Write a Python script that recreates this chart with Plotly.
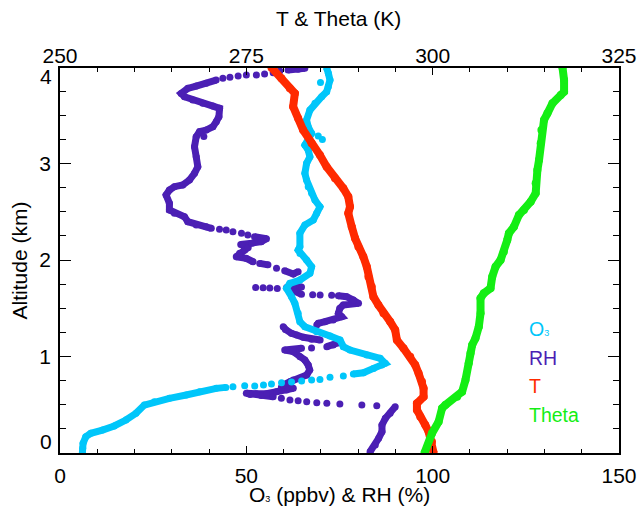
import plotly.graph_objects as go

# ---- data (None = break between separated dots) ----
o3_val = [6.0, 6.1, 6.19, 6.92, 8.27, 11.39, 14.54, 17.69, 20.38, 22.62, 25.32, 29.36, 33.85, 37.44, 41.93, 44.5, None,
          46.41, None, 49.56, None, 52.25, None, 54.6, None, 56.74, None, 59.44, None, 62.13, None, 64.83, None,
          67.52, None, 69.75, None, 72.45, None, 76.03, None,
          78.72, 81.42, 84.11, 86.37, 87.26, 85.91, 82.33, 77.84, 76.03, 75.14, 72.45, 68.87, 65.71, 64.37, 63.91,
          63.02, 62.13, 60.79, 61.68, 64.37, 67.06, 67.52, 66.17, 64.37, 63.91, 64.37, 64.37, 65.71, 67.96, 68.87,
          69.75, 68.41, 67.52, 66.60, 66.17, 65.71, 66.17, 67.06, 66.60, 65.71, 66.60, 67.52, 66.60, 66.17, 67.06,
          68.41, 70.21, 71.56, 72.01, 72.45, 72.01, 71.56, None, 69.3, None, 70.4, None, 69.9]
o3_alt = [0.0, 0.05, 0.100, 0.169, 0.204, 0.238, 0.280, 0.342, 0.411, 0.497, 0.532, 0.567, 0.601, 0.635, 0.670, 0.680, None,
          0.687, None, 0.697, None, 0.694, None, 0.705, None, 0.715, None, 0.729, None, 0.736, None, 0.746, None,
          0.756, None, 0.763, None, 0.784, None, 0.798, None,
          0.819, 0.832, 0.877, 0.912, 0.929, 0.981, 1.016, 1.067, 1.102, 1.171, 1.212, 1.257, 1.309, 1.361, 1.448,
          1.551, 1.620, 1.707, 1.758, 1.793, 1.862, 1.931, 2.000, 2.069, 2.104, 2.138, 2.277, 2.363, 2.415, 2.484,
          2.552, 2.622, 2.691, 2.760, 2.829, 2.898, 3.002, 3.070, 3.140, 3.192, 3.244, 3.313, 3.381, 3.451, 3.554,
          3.624, 3.692, 3.744, 3.796, 3.865, 3.935, 3.990, None, 3.285, None, 3.250, None, 3.840]

rh_val = [83.2, 84.6, 85.5, 86.4, 86.4, 87.3, 88.6, 89.95, None,
          85.0, None, 81.0, None, 75.1, None, 71.6, None, 68.9, None, 66.2, None, 63.9, None, 61.7, None, 59.4, None,
          57.2, 54.0, 51.0, 50.0, 52.7, 55.4, 58.1, 60.8, 62.6, 59.4, 59.9, 61.7, 62.6, 64.4, 66.2, 67.0, 66.6, 65.7,
          64.4, 62.6, 60.3, 62.6, 64.8, None, 67.5, None,
          71.6, 73.3, 74.7, None,
          69.8, 67.5, 65.3, 63.5, 62.1, 60.5, 59.9, None,
          68.9, 69.3, 71.1, 73.3, 75.6, 74.7, 75.1, 76.0, 80.1, 78.7, 76.9, 74.7, None,
          72.9, None, 69.8, None, 67.8, None,
          64.8, 63.0, 60.8, 62.5, 64.8, None,
          58.3, None, 56.3, None, 54.5, None, 52.5, None,
          63.9, 62.6, 60.3, None, 58.1, None, 55.8, 53.6, None, 51.8, 50.0, 47.3, 48.2, 49.6, 50.5, 48.5, 51.5, 54.0,
          55.4, 52.2, None,
          50.4, None, 48.7, None, 46.4, None, 44.6, None, 42.8, None,
          40.59, 39.24, 36.55, 34.29, 33.40, 30.70, 29.36, 29.36, 28.47, 29.36, 30.70, 32.94, 34.74, 36.09, 36.98,
          36.55, 36.09, 36.55, 37.44, 39.24, 41.02, 41.93, 42.64, 42.82, 41.02, 38.32, 35.63, 33.40, 32.51, 34.29,
          36.55, 39.24, 41.9, None, 43.7, None, 45.6, None, 47.8, None, 50.0, None, 52.7, None, 54.9, None,
          57.2, None, 59.0, None, 61.2, 63.9, 65.7, None, 38.6]
rh_alt = [0.013, 0.083, 0.152, 0.221, 0.290, 0.359, 0.411, 0.480, None,
          0.490, None, 0.497, None, 0.508, None, 0.515, None, 0.521, None, 0.532, None, 0.542, None, 0.549, None, 0.567, None,
          0.583, 0.595, 0.605, 0.619, 0.615, 0.615, 0.635, 0.653, 0.670, 0.680, 0.705, 0.739, 0.756, 0.774, 0.808, 0.860,
          0.912, 0.964, 0.998, 1.050, 1.067, 1.072, 1.085, None, 1.088, None,
          1.102, 1.119, 1.143, None,
          1.171, 1.178, 1.199, 1.223, 1.240, 1.280, 1.309, None,
          1.326, 1.344, 1.361, 1.378, 1.412, 1.448, 1.500, 1.534, 1.551, 1.585, 1.620, 1.630, None,
          1.635, None, 1.637, None, 1.640, None,
          1.645, 1.680, 1.715, 1.722, 1.720, None,
          1.705, None, 1.710, None, 1.713, None, 1.715, None,
          1.879, 1.855, 1.889, None, 1.914, None, 1.950, 1.965, None, 1.982, 2.017, 2.034, 2.069, 2.104, 2.130, 2.160,
          2.175, 2.190, 2.220, 2.241, None,
          2.259, None, 2.277, None, 2.293, None, 2.311, None, 2.318, None,
          2.328, 2.345, 2.363, 2.397, 2.449, 2.484, 2.518, 2.588, 2.674, 2.725, 2.760, 2.777, 2.829, 2.898, 2.967,
          3.070, 3.174, 3.278, 3.330, 3.347, 3.381, 3.433, 3.485, 3.572, 3.596, 3.624, 3.658, 3.692, 3.727, 3.779,
          3.803, 3.831, 3.865, None, 3.883, None, 3.893, None, 3.907, None, 3.917, None, 3.917, None, 3.927, None,
          3.941, None, 3.959, None, 3.969, 3.976, 3.987, None, 3.280]

t_val = [300.13, 299.91, 299.46, 299.01, 298.34, 297.89, 297.89, 298.78, 298.78, 298.57, 298.11, 297.66, 296.99,
         296.09, 295.20, 294.97, 294.30, 293.40, 292.72, 292.05, 291.83, 291.38, 291.16, 290.70, 290.03, 289.59,
         289.14, 288.68, 288.91, 288.68, 288.01, 286.89, 285.77, 284.87, 283.75, 282.62, 281.95, 281.28, 281.51,
         280.83, 279.71, 278.37]
t_alt = [0.0, 0.117, 0.221, 0.290, 0.376, 0.446, 0.515, 0.583, 0.670, 0.739, 0.826, 0.912, 0.998, 1.085, 1.171,
         1.275, 1.361, 1.448, 1.534, 1.620, 1.723, 1.827, 1.931, 2.034, 2.138, 2.225, 2.345, 2.484, 2.552, 2.656,
         2.743, 2.847, 2.967, 3.088, 3.209, 3.347, 3.468, 3.589, 3.727, 3.779, 3.883, 3.995]

theta_val = [298.9, 299.91, 300.80, 301.26, 301.70, 303.28, 303.95, 304.40, 304.84, 305.07, 305.30, 305.74, 306.19,
             306.42, 306.42, 306.86, 307.76, 307.99, 308.44, 309.11, 309.55, 310.01, 310.23, 310.90, 311.57, 312.25,
             313.15, 313.82, 313.82, 314.05, 314.27, 314.49, 314.59, 314.94, 315.40, 316.07, 317.19, 317.63, 317.63,
             317.42]
theta_alt = [0.0, 0.204, 0.325, 0.463, 0.497, 0.583, 0.635, 0.756, 0.929, 1.033, 1.119, 1.188, 1.309, 1.448, 1.603,
             1.655, 1.707, 1.827, 1.931, 2.000, 2.086, 2.207, 2.277, 2.345, 2.466, 2.518, 2.604, 2.691, 2.795, 2.933,
             3.036, 3.209, 3.347, 3.451, 3.520, 3.624, 3.710, 3.744, 3.865, 3.995]

CYAN = "#00C6FA"
PURPLE = "#4B1FB4"
RED = "#FF2A00"
GREEN = "#14EE14"
FONT = "Liberation Sans, Arial, Helvetica, sans-serif"
MS = 7

fig = go.Figure()
fig.add_trace(go.Scatter(x=rh_val, y=rh_alt, mode="lines+markers", connectgaps=False,
                         line=dict(color=PURPLE, width=MS), marker=dict(color=PURPLE, size=MS),
                         xaxis="x", yaxis="y", hoverinfo="skip"))
fig.add_trace(go.Scatter(x=o3_val, y=o3_alt, mode="lines+markers", connectgaps=False,
                         line=dict(color=CYAN, width=MS), marker=dict(color=CYAN, size=MS),
                         xaxis="x", yaxis="y", hoverinfo="skip"))
fig.add_trace(go.Scatter(x=t_val, y=t_alt, mode="lines+markers",
                         line=dict(color=RED, width=8), marker=dict(color=RED, size=8),
                         xaxis="x2", yaxis="y2", hoverinfo="skip"))
fig.add_trace(go.Scatter(x=theta_val, y=theta_alt, mode="lines+markers",
                         line=dict(color=GREEN, width=8), marker=dict(color=GREEN, size=8),
                         xaxis="x2", yaxis="y2", hoverinfo="skip"))

tickfont = dict(family=FONT, size=21, color="black")
minor_x = dict(ticks="inside", ticklen=4, tickwidth=1.2, tickcolor="black", dtick=10, tick0=0, showgrid=False)
minor_x2 = dict(ticks="inside", ticklen=4, tickwidth=1.2, tickcolor="black", dtick=5, tick0=250, showgrid=False)
minor_y = dict(ticks="inside", ticklen=6, tickwidth=1.2, tickcolor="black", tickmode="linear", dtick=0.25, tick0=0,
               showgrid=False)

fig.update_layout(
    width=637, height=513,
    margin=dict(l=60, r=18, t=68, b=60, autoexpand=False),
    paper_bgcolor="white", plot_bgcolor="white",
    showlegend=False,
    font=dict(family=FONT, color="black"),
    xaxis=dict(range=[0, 150], tickmode="linear", tick0=0, dtick=50, ticks="inside", ticklen=7, tickwidth=1.2,
               tickcolor="black", showline=True, linecolor="black", linewidth=1.5, showgrid=False, zeroline=False,
               tickfont=tickfont, minor=minor_x, ticklabelstandoff=3, automargin=False),
    xaxis2=dict(range=[250, 325], overlaying="x", side="top", tickmode="linear", tick0=250, dtick=25,
                ticks="inside", ticklen=7, tickwidth=1.2, tickcolor="black", showline=True, linecolor="black",
                linewidth=1.5, showgrid=False, zeroline=False, tickfont=tickfont, minor=minor_x2,
                ticklabelstandoff=-5, automargin=False),
    yaxis=dict(range=[0, 3.99], tickmode="array", tickvals=[0, 1, 2, 3], ticktext=["", "1", "2", "3"],
               ticks="inside", ticklen=11, tickwidth=1.2, tickcolor="black", showline=True, linecolor="black",
               linewidth=1.5, showgrid=False, zeroline=False, tickfont=tickfont, minor=minor_y,
               ticklabelstandoff=3, automargin=False),
    yaxis2=dict(range=[0, 3.99], overlaying="y", side="right", tickmode="array", tickvals=[0, 1, 2, 3],
                ticks="inside", ticklen=11, tickwidth=1.2, tickcolor="black", showline=True, linecolor="black",
                linewidth=1.5, showgrid=False, zeroline=False, showticklabels=False, minor=minor_y,
                automargin=False),
)

ann_font = dict(family=FONT, size=21, color="black")
fig.add_annotation(text="T & Theta (K)", xref="paper", yref="paper", x=0.499, y=1.128,
                   xanchor="center", yanchor="middle", showarrow=False, font=ann_font)
fig.add_annotation(text="O<span style='font-size:9px'>3</span> (ppbv) & RH (%)", xref="paper", yref="paper",
                   x=0.5, y=-0.109, xanchor="center", yanchor="middle", showarrow=False, font=ann_font)
fig.add_annotation(text="Altitude (km)", xref="paper", yref="paper", x=-0.0716, y=0.5, textangle=-90,
                   xanchor="center", yanchor="middle", showarrow=False, font=ann_font)
fig.add_annotation(text="0", xref="paper", yref="paper", x=-0.010, y=0.0286,
                   xanchor="right", yanchor="middle", showarrow=False, font=ann_font)
fig.add_annotation(text="4", xref="paper", yref="paper", x=-0.010, y=0.977,
                   xanchor="right", yanchor="middle", showarrow=False, font=ann_font)

leg_font = 19.5
for label, col, yp in [("O<span style='font-size:9px'>3</span>", CYAN, 0.322), ("RH", PURPLE, 0.247),
                       ("T", RED, 0.174), ("Theta", GREEN, 0.099)]:
    fig.add_annotation(text=label, xref="paper", yref="paper", x=0.835, y=yp, xanchor="left",
                       yanchor="middle", showarrow=False, font=dict(family=FONT, size=leg_font, color=col))

fig.write_html("out.html")
